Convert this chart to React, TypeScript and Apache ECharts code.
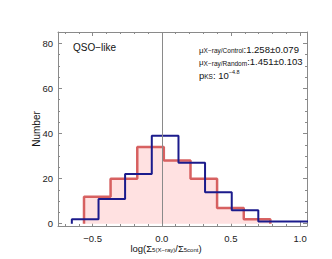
import React, { useEffect, useRef } from 'react';
import * as echarts from 'echarts';

// Histogram data (bin edges and counts)
const redEdges = [-0.562, -0.370, -0.177, 0.015, 0.208, 0.400, 0.593, 0.785];
const redCounts = [12, 20, 34, 28, 20, 7, 2];
const blueEdges = [-0.650, -0.457, -0.265, -0.072, 0.121, 0.313, 0.506, 0.698, 0.891, 1.083];
const blueCounts = [2, 11, 22, 39, 27, 14, 6, 1, 1];

const xMajorTicks = [-0.5, 0, 0.5, 1.0];
const xMinorTicks = [-0.7, -0.6, -0.4, -0.3, -0.2, -0.1, 0.1, 0.2, 0.3, 0.4, 0.6, 0.7, 0.8, 0.9];
const yMajorTicks = [0, 20, 40, 60, 80];
const yMinorTicks = [5, 10, 15, 25, 30, 35, 45, 50, 55, 65, 70, 75];
const refLineX = 0;

const panelLabel = 'QSO\u2212like';
const stats = [
  { sym: '\u03bc', sub: 'X\u2212ray/Control', val: ':1.258\u00b10.079' },
  { sym: '\u03bc', sub: 'X\u2212ray/Random', val: ':1.451\u00b10.103' },
];
const pKS = { sub: 'KS', base: ': 10', sup: '\u22124.8' };

const X_MIN = -0.75, X_MAX = 1.05, Y_MIN = -1, Y_MAX = 85;
const FONT = '"Liberation Sans", Arial, Helvetica, sans-serif';
const FRAME = '#8a8a8a';

function stepData(edges: number[], counts: number[]) {
  const pts: number[][] = [[edges[0], 0]];
  counts.forEach((c, i) => pts.push([edges[i], c]));
  pts.push([edges[edges.length - 1], counts[counts.length - 1]]);
  pts.push([edges[edges.length - 1], 0]);
  return pts;
}

const fmt = (v: number) => (v < 0 ? '\u2212' + Math.abs(v).toFixed(1) : v.toFixed(1));

export default function App() {
  const ref = useRef<HTMLDivElement>(null);
  useEffect(() => {
    document.body.style.margin = '0';
    const chart = echarts.init(ref.current!, null, { renderer: 'svg' });
    const xBase = (position: string, major: boolean, labels: boolean) => ({
      type: 'value', position, min: X_MIN, max: X_MAX, gridIndex: 0,
      axisLine: { show: major, onZero: false, lineStyle: { color: FRAME, width: 1 } },
      axisTick: { show: true, inside: true, length: major ? 4 : 2, customValues: major ? xMajorTicks : xMinorTicks, lineStyle: { color: FRAME } },
      axisLabel: labels ? { show: true, customValues: xMajorTicks, formatter: fmt, margin: 7, fontSize: 9.5, color: '#222', fontFamily: FONT } : { show: false },
      splitLine: { show: false },
    });
    const yBase = (position: string, major: boolean, labels: boolean) => ({
      type: 'value', position, min: Y_MIN, max: Y_MAX, gridIndex: 0,
      axisLine: { show: major, onZero: false, lineStyle: { color: FRAME, width: 1 } },
      axisTick: { show: true, inside: true, length: major ? 4 : 2, customValues: major ? yMajorTicks : yMinorTicks, lineStyle: { color: FRAME } },
      axisLabel: labels ? { show: true, customValues: yMajorTicks, margin: 5, fontSize: 9.5, color: '#222', fontFamily: FONT } : { show: false },
      splitLine: { show: false },
    });
    chart.setOption({
      animation: false,
      grid: { left: 58, right: 25, top: 32, bottom: 33, containLabel: false },
      xAxis: [xBase('bottom', true, true), xBase('bottom', false, false), xBase('top', true, false), xBase('top', false, false)],
      yAxis: [yBase('left', true, true), yBase('left', false, false), yBase('right', true, false), yBase('right', false, false)],
      series: [
        {
          type: 'line', xAxisIndex: 0, yAxisIndex: 0, step: 'end', symbol: 'none',
          data: stepData(redEdges, redCounts),
          lineStyle: { color: 'rgba(208,72,72,0.85)', width: 2.5 },
          areaStyle: { color: '#ffe1e1', opacity: 1 },
          z: 2,
        },
        {
          type: 'line', xAxisIndex: 0, yAxisIndex: 0, step: 'end', symbol: 'none',
          data: stepData(blueEdges, blueCounts),
          lineStyle: { color: '#1b1b8c', width: 2 },
          z: 3,
          markLine: {
            silent: true, symbol: ['none', 'none'], label: { show: false },
            lineStyle: { color: '#8a8a8a', width: 1, type: 'solid' },
            data: [{ xAxis: refLineX }],
          },
        },
      ],
      graphic: [
        { type: 'text', left: 73, top: 42, style: { text: panelLabel, fontSize: 10, fontFamily: FONT, fill: '#111' } },
        ...stats.map((s, i) => ({
          type: 'text', left: 199, top: 44 + i * 12.5,
          style: {
            text: `{m|${s.sym}}{s|${s.sub}}{v|${s.val}}`,
            fontFamily: FONT, fill: '#111',
            rich: {
              m: { fontSize: 8, fontFamily: FONT, verticalAlign: 'bottom', lineHeight: 11 },
              s: { fontSize: 6.5, fontFamily: FONT, verticalAlign: 'bottom', lineHeight: 11 },
              v: { fontSize: 9.5, fontFamily: FONT, verticalAlign: 'bottom', lineHeight: 11 },
            },
          },
        })),
        {
          type: 'text', left: 199, top: 69,
          style: {
            text: `{p|p}{s|${pKS.sub}}{v|${pKS.base}}{u|${pKS.sup}}`,
            fontFamily: FONT, fill: '#111',
            rich: {
              p: { fontSize: 9.5, fontFamily: FONT, verticalAlign: 'bottom', lineHeight: 11 },
              s: { fontSize: 6.5, fontFamily: FONT, verticalAlign: 'bottom', lineHeight: 11 },
              v: { fontSize: 9.5, fontFamily: FONT, verticalAlign: 'bottom', lineHeight: 11 },
              u: { fontSize: 5.5, fontFamily: FONT, verticalAlign: 'top', lineHeight: 11 },
            },
          },
        },
        {
          type: 'text', x: 36, y: 129, rotation: Math.PI / 2,
          style: { text: 'Number', fontSize: 10, fontFamily: FONT, fill: '#111', align: 'center', verticalAlign: 'middle' },
        },
        {
          type: 'text', left: 'center', top: 243,
          style: {
            text: '{v|log(\u03a3}{s|5(X\u2212ray)}{v|/\u03a3}{s|5cont}{v|)}',
            fontFamily: FONT, fill: '#111',
            rich: {
              v: { fontSize: 9.5, fontFamily: FONT, verticalAlign: 'bottom', lineHeight: 12 },
              s: { fontSize: 6, fontFamily: FONT, verticalAlign: 'bottom', lineHeight: 10 },
            },
          },
        },
      ],
    });
    return () => chart.dispose();
  }, []);
  return <div ref={ref} style={{ width: 332, height: 259 }} />;
}
